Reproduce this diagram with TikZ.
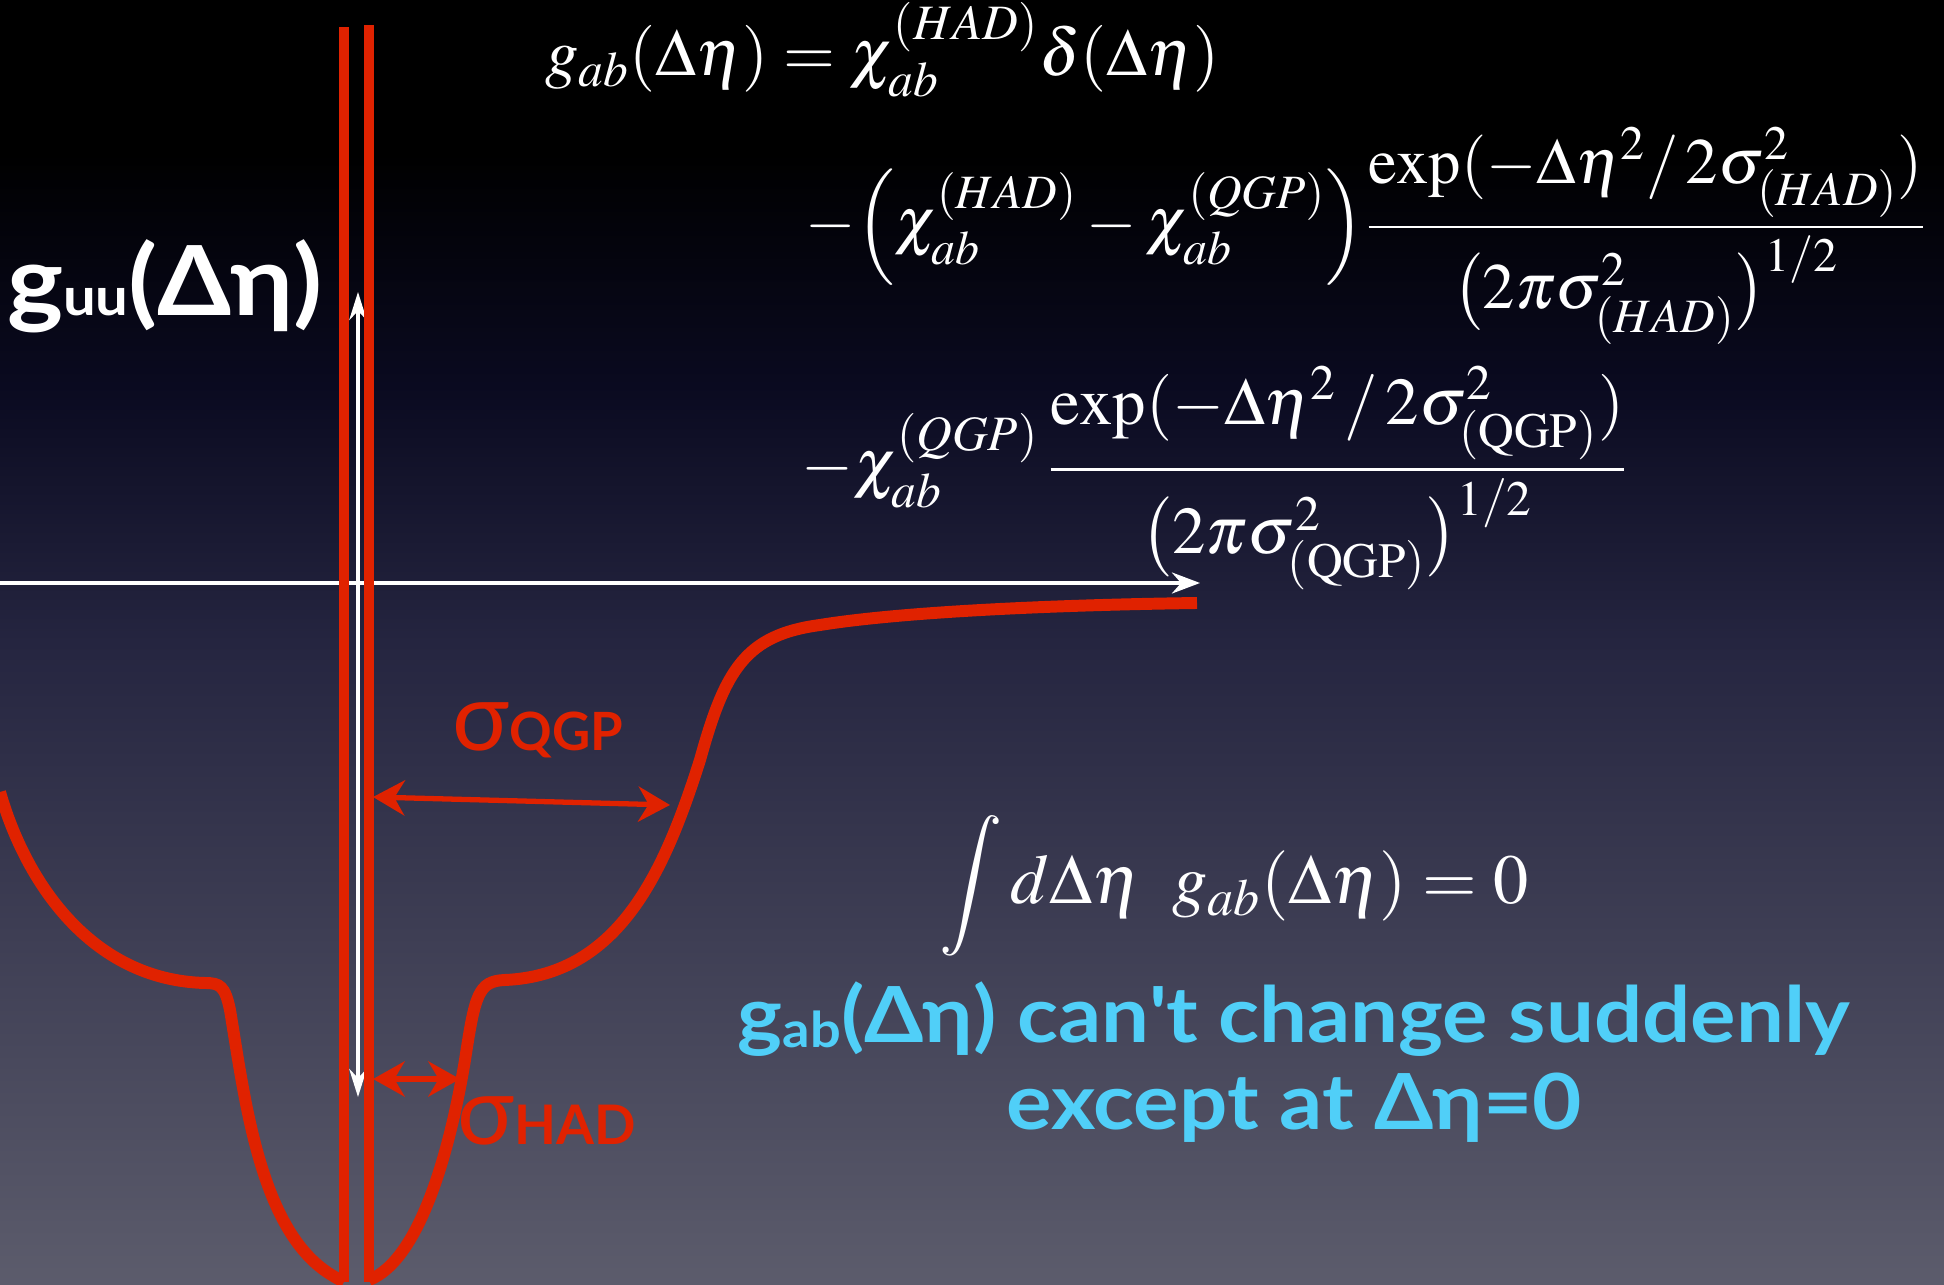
\documentclass[tikz,border=0pt]{standalone}
\usepackage{mathptmx}
\usepackage[no-math]{fontspec}
\newfontfamily\slidefont{Lato}
\newfontfamily\slidewide{Lato}[FakeStretch=1.1]
\usetikzlibrary{arrows.meta, positioning}
\definecolor{slidered}{RGB}{224,34,0}
\definecolor{slidecyan}{RGB}{80,207,248}
\definecolor{bgbot}{RGB}{92,92,108}
\definecolor{bgmid}{RGB}{37,37,64}
\definecolor{bgdark}{RGB}{10,10,32}
\pgfdeclareverticalshading{slidebg}{100bp}{color(0bp)=(bgbot); color(25bp)=(bgbot);
  color(50bp)=(bgmid); color(60bp)=(bgdark); color(69bp)=(black); color(100bp)=(black)}
\newcommand{\dEta}{\Delta\eta}

\begin{document}
\begin{tikzpicture}[x=0.01cm, y=-0.01cm,
    curve/.style   = {draw=slidered, line width=3.4pt},
    spike/.style   = {draw=slidered, line width=2.9pt},
    width/.style   = {slidered, line width=1.5pt,
                      {Stealth[length=9pt, width=10pt]}-{Stealth[length=9pt, width=10pt]}},
    axisline/.style= {white, line width=0.9pt},
    formula/.style = {text=white, inner sep=0pt, font=\fontsize{19}{23}\selectfont},
    sigma/.style   = {text=slidered, inner sep=0pt, anchor=base west},
    note/.style    = {text=slidecyan, align=center,
                      font=\slidewide\bfseries\fontsize{22}{24.7}\selectfont}
  ]
  \useasboundingbox (0,0) rectangle (1944,1285);
  \shade[shading=slidebg] (0,0) rectangle (1944,1285);

  % axes
  \coordinate (axisL)    at (0,583);
  \coordinate (axisR)    at (1200,583);
  \coordinate (spikeTop) at (358,292);
  \coordinate (spikeBot) at (358,1097);
  \draw[axisline, -{Stealth[length=8pt, width=6pt]}] (axisL) -- (axisR);
  \draw[axisline, {Stealth[length=8pt, width=5pt]}-{Stealth[length=8pt, width=5pt]}]
    (spikeTop) -- (spikeBot);

  % the correlation function
  \draw[curve] (0,792) .. controls (25,880) and (90,980) .. (205,983)
    .. controls (220,983) and (225,986) .. (230,1010)
    .. controls (245,1100) and (260,1230) .. (330,1274)
    .. controls (338,1279) and (344,1282) .. (344,1282);
  \draw[spike] (344,1282) -- (344,27);
  \draw[spike] (369,25) -- (369,1282);
  \draw[curve] (369,1280) .. controls (420,1260) and (450,1150) .. (465,1060)
    .. controls (475,995) and (478,981) .. (505,980)
    .. controls (620,975) and (665,870) .. (700,760)
    .. controls (725,670) and (745,635) .. (820,625)
    .. controls (900,612) and (1050,605) .. (1197,603);

  % widths
  \coordinate (qgpL) at (373,797);
  \coordinate (qgpR) at (670,805);
  \coordinate (hadL) at (373,1079);
  \coordinate (hadR) at (460,1079);
  \draw[width] (qgpL) -- (qgpR);
  \draw[width] (hadL) -- (hadR);
  \node[sigma] (sqgp) at (452,750) {\slidefont\fontsize{27}{27}\selectfont σ%
    {\fontsize{15}{15}\selectfont\bfseries QGP}};
  \node[sigma] (shad) at (457,1144) {\slidefont\fontsize{27}{27}\selectfont σ%
    {\fontsize{15.5}{15}\selectfont\bfseries HAD}};

  \node[text=white, inner sep=0pt] (guu) at (165,286)
    {\slidewide\bfseries\fontsize{27.5}{32}\selectfont g{\fontsize{15}{15}\selectfont uu}(Δη)};

  % formulas
  \node[formula] (eqA) at (882,50)
    {$g_{ab}(\dEta) = \chi_{ab}^{(HAD)}\delta(\dEta)$};
  \node[formula, anchor=base east, font=\fontsize{18.4}{22}\selectfont] (eqB) at (1928,243)
    {$\displaystyle -\!\left(\chi_{ab}^{(HAD)} - \chi_{ab}^{(QGP)}\right)\!
      \frac{\exp(-\dEta^{2}/\,2\sigma_{(HAD)}^{2})}{\bigl(2\pi\sigma_{(HAD)}^{2}\bigr)^{1/2}}$};
  \node[formula, anchor=base] (eqC) at (1215,486)
    {$\displaystyle -\chi_{ab}^{(QGP)}\,
      \frac{\exp(-\dEta^{2}\,/\,2\sigma_{\mathrm{(QGP)}}^{2})}{\bigl(2\pi\sigma_{\mathrm{(QGP)}}^{2}\bigr)^{1/2}}$};
  \node[formula, font=\fontsize{20}{24}\selectfont] (sumrule) at (1234,886)
    {$\displaystyle \int d\dEta\;\; g_{ab}(\dEta) = 0$};

  \node[note] (claim) at (1294,1062)
    {g\raisebox{-0.06em}{\fontsize{14}{14}\selectfont ab}(Δη) can\textquotesingle t change suddenly\\
     except at Δη=0};
\end{tikzpicture}
\end{document}
